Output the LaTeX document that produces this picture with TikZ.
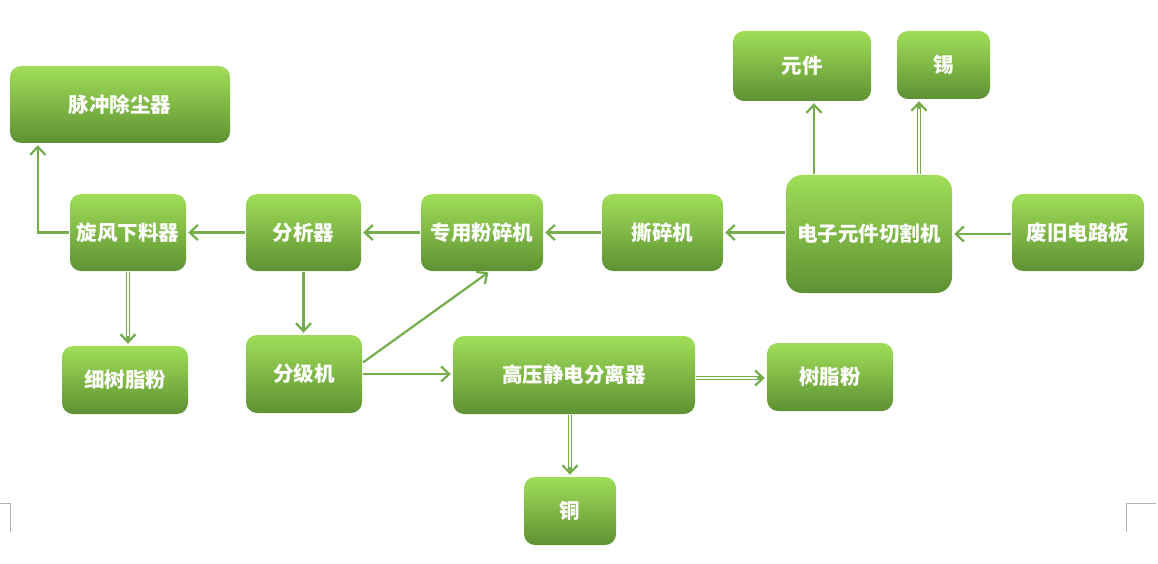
\documentclass[tikz,border=0pt]{standalone}
\usepackage{fontspec}
\newfontfamily\cjk{Noto Sans CJK SC}
\usetikzlibrary{arrows.meta}
\definecolor{boxtop}{HTML}{A0DE58}
\definecolor{boxbot}{HTML}{5E9133}
\definecolor{arrowgreen}{HTML}{74AE4C}
\definecolor{markgray}{HTML}{B4B4B4}
\tikzset{
  box/.style={draw=none, rounded corners=11pt, top color=boxtop, bottom color=boxbot,
    text=white, font=\cjk\bfseries\fontsize{20.5}{23}\selectfont, inner sep=0pt},
  tip/.style={-{Straight Barb[length=8pt,width=15pt,line width=2.2pt]}},
  arr/.style={draw=arrowgreen, line width=2.2pt, tip, shorten >=2pt, shorten <=1pt},
  darr/.style={draw=arrowgreen, line width=4pt, tip, shorten >=2pt, shorten <=1pt,
    postaction={draw=white, line width=1.4pt, arrows=-, shorten >=10pt, shorten <=1pt}},
}
\begin{document}
\begin{tikzpicture}[x=1pt,y=-1pt]
\useasboundingbox[fill=white] (0,0) rectangle (1158,564);
% page corner marks
\draw[markgray, line width=0.6pt] (0,503) -- (10,503) -- (10,532);
\draw[markgray, line width=0.6pt] (1156,503) -- (1126,503) -- (1126,532);
% nodes
\node[box, minimum width=220pt, minimum height=77pt] (pulse) at (120,104.5) {脉冲除尘器};
\node[box, minimum width=116pt, minimum height=77pt] (cyclone) at (128,232.5) {旋风下料器};
\node[box, minimum width=115pt, minimum height=77pt] (analyzer) at (303.5,232.5) {分析器};
\node[box, minimum width=122pt, minimum height=77pt] (crusher) at (482,232.5) {专用粉碎机};
\node[box, minimum width=121pt, minimum height=77pt] (shredder) at (662.5,232.5) {撕碎机};
\node[box, minimum width=166pt, minimum height=118pt, rounded corners=16pt] (cutter) at (869,234) {电子元件切割机};
\node[box, minimum width=132pt, minimum height=77pt] (waste) at (1078,232.5) {废旧电路板};
\node[box, minimum width=138pt, minimum height=70pt] (comp) at (802,66) {元件};
\node[box, minimum width=93pt, minimum height=68pt] (tin) at (943.5,65) {锡};
\node[box, minimum width=126pt, minimum height=68pt] (fine) at (125,380) {细树脂粉};
\node[box, minimum width=116pt, minimum height=78pt] (classifier) at (304,374) {分级机};
\node[box, minimum width=242pt, minimum height=78pt] (hv) at (574,375) {高压静电分离器};
\node[box, minimum width=126pt, minimum height=68pt] (resin) at (830,377) {树脂粉};
\node[box, minimum width=92pt, minimum height=68pt] (copper) at (570,511) {铜};
% connectors
\draw[arr] (waste.west |- cutter.west) -- (cutter.east);
\draw[arr] (cutter.west |- shredder.east) -- (shredder.east);
\draw[arr] (shredder.west) -- (crusher.east);
\draw[arr] (crusher.west) -- (analyzer.east);
\draw[arr] (analyzer.west) -- (cyclone.east);
\draw[arr] (cyclone.west) -| ([xshift=28pt]pulse.south west);
\draw[darr] (cyclone.south) -- (cyclone.south |- fine.north);
\draw[arr] (analyzer.south) -- (analyzer.south |- classifier.north);
\draw[arr] ([yshift=11pt]classifier.east) -- ([xshift=8pt]crusher.south);
\draw[arr] (classifier.east) -- (classifier.east -| hv.west);
\draw[darr] ([yshift=-3pt]hv.east) -- ([yshift=-3pt]hv.east -| resin.west);
\draw[darr] (hv.south -| copper.north) -- (copper.north);
\draw[arr] ([xshift=12pt]comp.south |- cutter.north) -- ([xshift=12pt]comp.south);
\draw[darr] ([xshift=-24.5pt]tin.south |- cutter.north) -- ([xshift=-24.5pt]tin.south);
\end{tikzpicture}
\end{document}
